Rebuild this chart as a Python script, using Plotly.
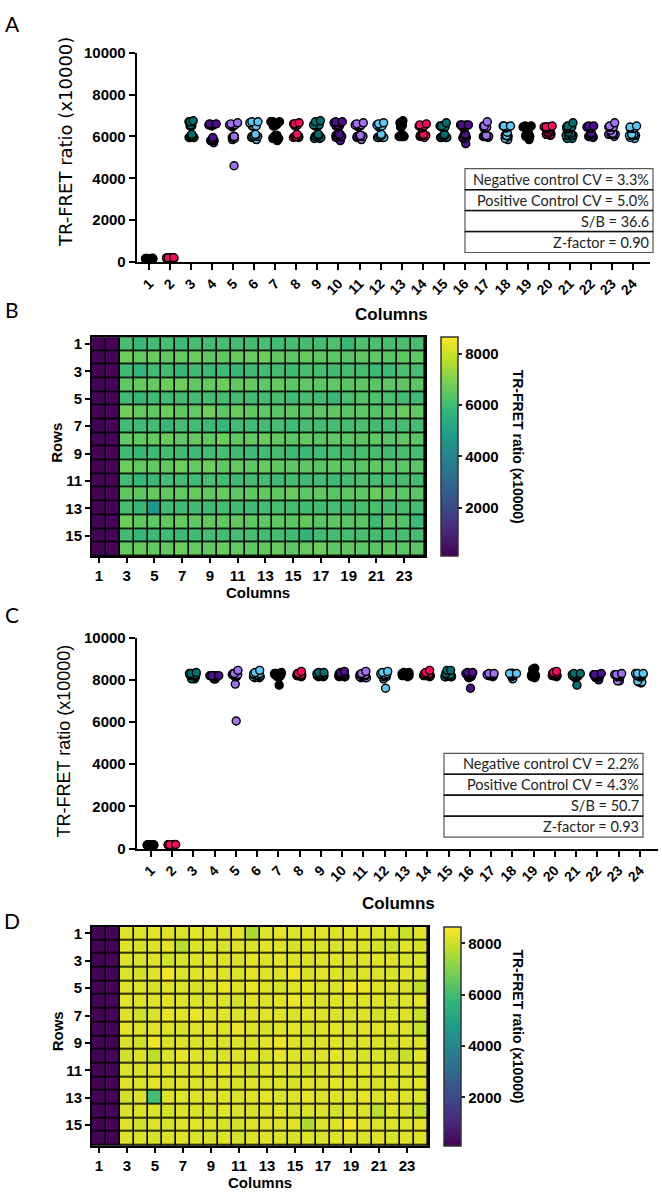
import plotly.graph_objects as go

# ---------------- data ----------------
columns = list(range(1, 25))
rows = list(range(1, 17))
palette = ["#000000", "#FF0A5A", "#00706E", "#4B0E8C", "#A070F0", "#5CC8F5"]

# Assay 1 (panels A/B): rows 1..16, columns 1..24
assay1 = [
    [150, 180, 6100, 5850, 6000, 6100, 5900, 6100, 6050, 6100, 6050, 6050, 6100, 6000, 6100, 6050, 6050, 6200, 5850, 6200, 6150, 6100, 6150, 6100],
    [170, 200, 6700, 6550, 6650, 6500, 6600, 6650, 6500, 6550, 6600, 6650, 6750, 6500, 6450, 6550, 6500, 6450, 6400, 6500, 6450, 6400, 6500, 6450],
    [140, 170, 5950, 5700, 6000, 6050, 5800, 6000, 5900, 5950, 5850, 5950, 6000, 6050, 5950, 6100, 6050, 6000, 6050, 6050, 5900, 5950, 6150, 6100],
    [160, 190, 6500, 6600, 6550, 6700, 6700, 6500, 6550, 6700, 6500, 6600, 6500, 6550, 6450, 6500, 6450, 6500, 6400, 6450, 6400, 6450, 6450, 6400],
    [180, 210, 5950, 5800, 5950, 6000, 6050, 6000, 6050, 6100, 6050, 6000, 6050, 6100, 5950, 6100, 6000, 5850, 6150, 6300, 6200, 6150, 6000, 5950],
    [155, 175, 6750, 6550, 6500, 6700, 6500, 6550, 6750, 6450, 6650, 6500, 6450, 6400, 6500, 6400, 6450, 6500, 6400, 6450, 6350, 6400, 6650, 6500],
    [145, 185, 5950, 5950, 6000, 5850, 6050, 6000, 5900, 5800, 6000, 5950, 6000, 6100, 5950, 6050, 6000, 6050, 6050, 6150, 6050, 6000, 6100, 6050],
    [165, 195, 6500, 6550, 6550, 6650, 6500, 6550, 6500, 6700, 6500, 6550, 6650, 6500, 6450, 6550, 6400, 6450, 6450, 6400, 6450, 6400, 6450, 6400],
    [175, 170, 5950, 5850, 5950, 6050, 6000, 5950, 6000, 6100, 6000, 5950, 6000, 6050, 5950, 5900, 5950, 6050, 6000, 6100, 6050, 6000, 6100, 6050],
    [150, 205, 6700, 6550, 6550, 6500, 6700, 6600, 6700, 6500, 6550, 6450, 6650, 6500, 6500, 6450, 6400, 6500, 6450, 6400, 6500, 6400, 6450, 6400],
    [160, 180, 6000, 5800, 5850, 6000, 6050, 5950, 6100, 6050, 5950, 6050, 6000, 5950, 6050, 5950, 6000, 5900, 6100, 6200, 6050, 6000, 6100, 6050],
    [140, 190, 6500, 6500, 6600, 6500, 6550, 6600, 6500, 6650, 6450, 6500, 6550, 6500, 6650, 6450, 6500, 6400, 6500, 6450, 6650, 6500, 6450, 6400],
    [170, 200, 6050, 5850, 4600, 6000, 5950, 6000, 5950, 6050, 6000, 5950, 6000, 6100, 6050, 5950, 6000, 6050, 6000, 6100, 6150, 6000, 6100, 6050],
    [155, 175, 6700, 6550, 6450, 6500, 6600, 6500, 6550, 6500, 6550, 6500, 6450, 6500, 6450, 6550, 6400, 6450, 6400, 6400, 5900, 6450, 6300, 5900],
    [165, 185, 6000, 5800, 5900, 5950, 5900, 6000, 6050, 6000, 6050, 6100, 6000, 6050, 6000, 5650, 6000, 6050, 6050, 6100, 6050, 6000, 6100, 6050],
    [150, 195, 6550, 6600, 6550, 6500, 6700, 6550, 6500, 6650, 6550, 6450, 6500, 6600, 6450, 6550, 6700, 6450, 6500, 6450, 6400, 6500, 6450, 6400],
]

# Assay 2 (panels C/D)
assay2 = [
    [170, 185, 8250, 8200, 8300, 8250, 8200, 8300, 8250, 8200, 8300, 7600, 8250, 8300, 8200, 8250, 8300, 8200, 8250, 8300, 8200, 8250, 7950, 8250],
    [160, 175, 8300, 8150, 8250, 8300, 7750, 8250, 8200, 8150, 8250, 8200, 8300, 8250, 8150, 8250, 8200, 8150, 8250, 8200, 8150, 8000, 8300, 8150],
    [150, 190, 8250, 8150, 8250, 8100, 8150, 8250, 8300, 8250, 8200, 8350, 8250, 8300, 8250, 8200, 8250, 8300, 8200, 8250, 8300, 8250, 8200, 8150],
    [165, 180, 8200, 8100, 8250, 8450, 8200, 8250, 8350, 8250, 8200, 8300, 8250, 8200, 8450, 8150, 8300, 8200, 8100, 8250, 8200, 8150, 8250, 8200],
    [175, 170, 8250, 8200, 8150, 8250, 8200, 8150, 8200, 8400, 8250, 8400, 8250, 8150, 8250, 8350, 8200, 8250, 8500, 8400, 8250, 8200, 8150, 7850],
    [155, 195, 8300, 8200, 8250, 8300, 8250, 8200, 8250, 8200, 8100, 8250, 8200, 8300, 8450, 8250, 8150, 8300, 8250, 8200, 8250, 8150, 8250, 8300],
    [180, 165, 8250, 8050, 8200, 8350, 8300, 8400, 8250, 8300, 8200, 8250, 8300, 8250, 8200, 8300, 8250, 8200, 8150, 8250, 8100, 8200, 8250, 7950],
    [160, 185, 8350, 8200, 8250, 8250, 8150, 8200, 8350, 8250, 8400, 8200, 8150, 8250, 8300, 8150, 8250, 8300, 8200, 8250, 8300, 8250, 8200, 7900],
    [170, 175, 8200, 8050, 8450, 8200, 8250, 8200, 8250, 8200, 8250, 8150, 8300, 8450, 8250, 8200, 8250, 8300, 8200, 8250, 8200, 8150, 8250, 8200],
    [165, 190, 8050, 8200, 7800, 8250, 8350, 8250, 8200, 8150, 8250, 8300, 8200, 8350, 8250, 8200, 8250, 8300, 8200, 8150, 8200, 8100, 7950, 8300],
    [175, 180, 8200, 8150, 8250, 8250, 8200, 8250, 8300, 8350, 8250, 8050, 8350, 8200, 8250, 8100, 8250, 8200, 8250, 8300, 8250, 8200, 8250, 8150],
    [150, 170, 8250, 8200, 8300, 8150, 8250, 8200, 8250, 8200, 8150, 8250, 8200, 8250, 8150, 8250, 8200, 8300, 8250, 8200, 8150, 8250, 8200, 8300],
    [185, 165, 8050, 8150, 6050, 8250, 8300, 8250, 8200, 8250, 8200, 8250, 8350, 8200, 8250, 8350, 8200, 8250, 8200, 8350, 8200, 8300, 8250, 8200],
    [160, 185, 8150, 8200, 8200, 8100, 8250, 8200, 8150, 8300, 8200, 8150, 8250, 8300, 8150, 8200, 8250, 8050, 8250, 8200, 7750, 8250, 8150, 7900],
    [170, 175, 8250, 8050, 8200, 8150, 8250, 8300, 8250, 8150, 8100, 8200, 8250, 8200, 8250, 7600, 8250, 8200, 8550, 8250, 8200, 8250, 8200, 8250],
    [165, 180, 8250, 8200, 8150, 8200, 8250, 8200, 8150, 8250, 8100, 8200, 8250, 8200, 8150, 8250, 8200, 8300, 8250, 8200, 8250, 8150, 8250, 8200],
]

stats_a = ["Negative control CV = 3.3%", "Positive Control CV = 5.0%", "S/B = 36.6", "Z-factor = 0.90"]
stats_c = ["Negative control CV = 2.2%", "Positive Control CV = 4.3%", "S/B = 50.7", "Z-factor = 0.93"]

y_ticks = [0, 2000, 4000, 6000, 8000, 10000]
cbar_ticks = [2000, 4000, 6000, 8000]
heat_xticks = list(range(1, 25, 2))
heat_yticks = list(range(1, 17, 2))
y_title = "TR-FRET ratio (x10000)"

# ---------------- helpers ----------------
W, H = 662, 1200
def px(x):
    return x / W
def py(y):
    return 1 - y / H

BOLD = dict(family="Liberation Sans", size=15, color="black", weight="bold")

fig = go.Figure()

def add_strip(data, xa, ya):
    for j, col in enumerate(columns):
        vals = [r[j] for r in data]
        fig.add_trace(go.Box(
            x=[col] * len(vals), y=vals,
            xaxis=xa, yaxis=ya,
            boxpoints="all", jitter=1.0, pointpos=0, width=0.45,
            fillcolor="rgba(0,0,0,0)", line=dict(color="rgba(0,0,0,0)", width=0),
            whiskerwidth=0,
            marker=dict(color=palette[j % 6], size=8, line=dict(color="black", width=1.4)),
            showlegend=False, hoverinfo="y",
        ))

add_strip(assay1, "x", "y")
add_strip(assay2, "x3", "y3")

def add_heat(data, xa, ya, cb_x0, cb_top, cb_bot):
    fig.add_trace(go.Heatmap(
        z=data, x=columns, y=rows, xaxis=xa, yaxis=ya,
        colorscale="Viridis", zmin=115, zmax=8650, xgap=1.6, ygap=1.6,
        colorbar=dict(
            x=px(cb_x0), xanchor="left", y=py(cb_bot), yanchor="bottom",
            len=(cb_bot - cb_top) / H, lenmode="fraction",
            thickness=17, thicknessmode="pixels", xpad=0, ypad=0,
            outlinewidth=1.5, outlinecolor="#333",
            ticks="outside", ticklen=4, tickwidth=1.5, tickcolor="#222",
            tickvals=cbar_ticks, tickfont=BOLD,
        ),
    ))

add_heat(assay1, "x2", "y2", 441, 333, 555)
add_heat(assay2, "x4", "y4", 444, 930.7, 1153)

axis_common = dict(showline=True, linecolor="black", linewidth=2, ticks="outside",
                   ticklen=6, tickwidth=2, tickcolor="black", showgrid=False,
                   zeroline=False, tickfont=BOLD, tickformat="d")

fig.update_layout(
    width=W, height=H, margin=dict(l=0, r=0, t=0, b=0),
    paper_bgcolor="white", plot_bgcolor="white", showlegend=False,
    boxmode="overlay",
    xaxis=dict(axis_common, domain=[px(136.7), px(650)], anchor="y", range=[0.40, 24.82],
               tickvals=columns, tickangle=-45, tickfont=dict(BOLD, size=14)),
    yaxis=dict(axis_common, domain=[py(256.7), py(44.3)], anchor="x", range=[0, 10000],
               tickvals=y_ticks),
    xaxis3=dict(axis_common, domain=[px(136.7), px(658)], anchor="y3", range=[0.34, 24.85],
                tickvals=columns, tickangle=-45, tickfont=dict(BOLD, size=14)),
    yaxis3=dict(axis_common, domain=[py(851.7), py(637.7)], anchor="x3", range=[0, 10000],
                tickvals=y_ticks),
    xaxis2=dict(axis_common, domain=[px(92), px(425)], anchor="y2", range=[0.5, 24.5],
                tickvals=heat_xticks, mirror=True, ticklen=5),
    yaxis2=dict(axis_common, domain=[py(555), py(333)], anchor="x2", range=[16.5, 0.5],
                tickvals=heat_yticks, mirror=True, ticklen=5),
    xaxis4=dict(axis_common, domain=[px(92), px(428)], anchor="y4", range=[0.5, 24.5],
                tickvals=heat_xticks, mirror=True, ticklen=5),
    yaxis4=dict(axis_common, domain=[py(1153), py(930.7)], anchor="x4", range=[16.5, 0.5],
                tickvals=heat_yticks, mirror=True, ticklen=5),
)

shapes = []
# black backing for heatmap grid lines
for xa, ya in (("x2", "y2"), ("x4", "y4")):
    shapes.append(dict(type="rect", xref=f"{xa} domain", yref=f"{ya} domain",
                       x0=0, x1=1, y0=0, y1=1, fillcolor="black", line=dict(width=0),
                       layer="below"))

annotations = []
def add_table(texts, x0, x1, y0, y1):
    n = len(texts)
    h = (y1 - y0) / n
    for i, t in enumerate(texts):
        ta = y0 + i * h
        tb = ta + h
        shapes.append(dict(type="rect", xref="paper", yref="paper",
                           x0=px(x0), x1=px(x1), y0=py(tb), y1=py(ta),
                           line=dict(color="#555", width=1.2), fillcolor="white"))
        annotations.append(dict(text=t, xref="paper", yref="paper", x=px(x1 - 2), y=py((ta + tb) / 2),
                                xanchor="right", yanchor="middle", showarrow=False,
                                font=dict(family="Lato", size=14.5, color="#222")))
    for i in range(1, n):
        yy = y0 + i * h
        shapes.append(dict(type="line", xref="paper", yref="paper", x0=px(x0), x1=px(x1),
                           y0=py(yy), y1=py(yy), line=dict(color="#111", width=1.5)))

add_table(stats_a, 465, 653, 162, 247)
add_table(stats_c, 444, 643, 755, 840)

def ann(text, x, y, size=15, bold=True, angle=0, family="Liberation Sans"):
    annotations.append(dict(text=text, xref="paper", yref="paper", x=px(x), y=py(y),
                            xanchor="center", yanchor="middle", showarrow=False, textangle=angle,
                            font=dict(family=family, size=size, color="black",
                                      weight="bold" if bold else "normal")))

# panel letters
for letter, yy in (("A", 15), ("B", 305), ("C", 614), ("D", 925)):
    ann(letter, 12, yy, size=21, bold=False, family="Lato")

# scatter axis titles
ann(y_title, 65, 135, size=18, bold=False, angle=-90, family="DejaVu Sans")
ann("Columns", 392, 310, size=17)
ann(y_title, 64, 743, size=18, bold=False, angle=-90)
ann("Columns", 398, 907, size=17)

# heatmap titles
ann("Rows", 57, 440, size=15, angle=-90)
ann("Columns", 258, 592, size=15)
ann("Rows", 57, 1037, size=15, angle=-90)
ann("Columns", 260, 1190, size=15)
ann(y_title, 518, 444, size=14, angle=90)
ann(y_title, 518, 1032, size=14, angle=90)

fig.update_layout(shapes=shapes, annotations=annotations)

fig.write_html("out.html", config={"displayModeBar": False},
               post_script="document.body.style.margin='0';")
